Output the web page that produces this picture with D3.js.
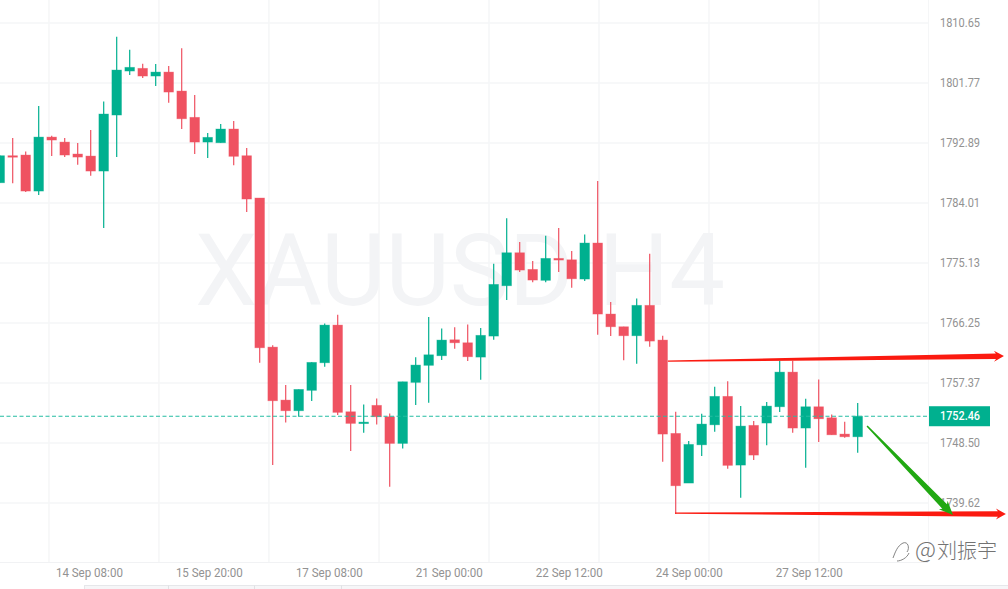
<!DOCTYPE html>
<html><head><meta charset="utf-8">
<script src="https://cdn.jsdelivr.net/npm/d3@7/dist/d3.min.js"></script>
<style>html,body{margin:0;padding:0;background:#fff;overflow:hidden}svg{display:block}</style>
</head><body><svg id="c" width="1008" height="589"></svg>
<script>
const opens=[1787.01,1791.01,1791.11,1785.78,1793.77,1793.03,1791.26,1790.96,1788.74,1797.03,1803.54,1803.94,1802.80,1803.39,1800.58,1796.69,1793.03,1792.93,1794.96,1791.01,1784.75,1762.69,1754.85,1753.27,1756.29,1760.37,1765.95,1753.12,1751.40,1754.07,1752.38,1748.44,1757.47,1759.99,1761.41,1763.77,1763.33,1761.21,1764.32,1771.77,1776.65,1774.19,1772.57,1775.82,1775.61,1772.76,1778.09,1767.58,1765.70,1764.37,1768.87,1763.73,1749.92,1742.57,1748.23,1751.19,1755.40,1745.23,1751.11,1751.45,1753.86,1758.99,1750.71,1753.86,1752.23,1749.82,1749.42];
const highs=[1791.10,1793.63,1791.65,1798.36,1793.97,1793.63,1792.89,1794.81,1799.05,1808.62,1806.69,1804.62,1804.58,1804.28,1806.90,1799.99,1794.37,1795.70,1796.14,1792.15,1784.75,1762.95,1757.07,1756.43,1760.43,1766.20,1767.47,1757.07,1754.21,1755.10,1752.88,1757.56,1761.17,1767.13,1765.46,1765.61,1766.05,1765.51,1775.02,1781.74,1778.23,1775.42,1779.17,1780.31,1776.90,1779.37,1787.26,1769.35,1765.70,1769.90,1776.50,1764.37,1753.12,1748.78,1752.82,1756.82,1757.62,1753.96,1751.74,1754.55,1760.67,1760.67,1755.04,1757.91,1752.73,1751.64,1754.41];
const lows=[1787.00,1786.92,1785.63,1785.19,1790.96,1790.81,1789.68,1788.05,1780.31,1790.81,1802.95,1802.51,1801.32,1798.85,1794.96,1791.26,1790.67,1792.93,1789.59,1782.67,1760.37,1745.23,1751.55,1752.38,1754.70,1759.78,1752.63,1747.30,1750.01,1751.25,1742.02,1747.70,1754.11,1754.45,1760.77,1762.44,1760.62,1757.85,1763.77,1769.65,1773.79,1772.27,1772.27,1773.79,1771.47,1772.46,1764.51,1764.32,1760.73,1760.22,1762.74,1745.72,1737.98,1742.57,1746.56,1750.16,1744.68,1740.39,1745.97,1748.15,1753.07,1750.01,1744.83,1748.63,1749.71,1749.27,1747.05];
const closes=[1791.01,1790.81,1785.78,1793.77,1793.33,1791.11,1790.81,1788.74,1797.18,1803.69,1804.09,1802.80,1803.39,1800.43,1796.48,1793.03,1793.73,1794.96,1790.92,1784.60,1762.59,1754.75,1753.27,1756.43,1760.43,1765.95,1753.03,1751.40,1751.59,1752.38,1748.44,1757.56,1760.03,1761.55,1763.73,1763.33,1761.26,1764.43,1771.97,1776.65,1774.09,1772.61,1775.82,1775.57,1772.80,1778.09,1767.58,1765.70,1764.37,1768.87,1763.58,1749.82,1742.17,1748.29,1751.30,1755.40,1745.19,1751.00,1746.71,1753.96,1758.99,1750.71,1753.86,1752.08,1749.71,1749.42,1752.46];
const priceTicks=["1810.65","1801.77","1792.89","1784.01","1775.13","1766.25","1757.37","1748.50","1739.62"];
const timeLabels=["14 Sep 08:00","15 Sep 20:00","17 Sep 08:00","21 Sep 00:00","22 Sep 12:00","24 Sep 00:00","27 Sep 12:00"];
const timeLabelBars=[6.9,16.13,25.36,34.59,43.82,53.05,62.28];
const gridBars=[3.79,12.25,20.71,29.18,37.64,46.1,54.56,63.02];
const lastPrice=1752.46;
const trendTop=[[51.4,1760.62],[77.25,1761.36]];
const trendBottom=[[51.95,1738.13],[77.4,1737.98]];
const trendDown=[[66.72,1751.0],[73.33,1737.83]];

const RED="#ef5261",GREEN="#00b08f",GRID="#f5f6f7",AXT="#929292";
const x=d3.scaleLinear().domain([0,66]).range([-0.3,857.7]);
const y=d3.scaleLinear().domain([1810.65,1739.62]).range([23,503]);
const svg=d3.select("#c");
svg.append("rect").attr("width",1008).attr("height",589).attr("fill","#fff");

// grid
svg.append("g").selectAll("line").data(priceTicks).join("line")
 .attr("x1",0).attr("x2",928).attr("y1",d=>y(+d)).attr("y2",d=>y(+d))
 .attr("stroke",GRID).attr("stroke-width",1.5);
svg.append("g").selectAll("line").data(gridBars).join("line")
 .attr("x1",d=>x(d)).attr("x2",d=>x(d)).attr("y1",0).attr("y2",562)
 .attr("stroke",GRID).attr("stroke-width",1.5);

// watermark
svg.append("text").attr("x",460).attr("y",305).attr("text-anchor","middle")
 .attr("font-family","Roboto").attr("font-size",100).attr("fill","#f3f4f6")
 .attr("textLength",530).attr("lengthAdjust","spacingAndGlyphs").text("XAUUSD H4");

// axes frame and the tab strip at the very bottom
svg.append("line").attr("x1",0).attr("x2",928).attr("y1",562.5).attr("y2",562.5).attr("stroke","#f1f2f4");
svg.append("line").attr("x1",928.5).attr("x2",928.5).attr("y1",0).attr("y2",562).attr("stroke","#f5f6f7");
svg.append("rect").attr("x",84.5).attr("y",585.5).attr("width",930).attr("height",6).attr("fill","#f6f6f8").attr("stroke","#e6e7ea");
svg.append("g").selectAll("line").data([168.5,254.5,341.5]).join("line")
 .attr("x1",d=>d).attr("x2",d=>d).attr("y1",585.5).attr("y2",589).attr("stroke","#e0e1e4");

// candles
const idx=d3.range(opens.length);
const col=i=>closes[i]>=opens[i]?GREEN:RED;
svg.append("g").selectAll("line").data(idx).join("line")
 .attr("x1",i=>x(i)).attr("x2",i=>x(i)).attr("y1",i=>y(highs[i])).attr("y2",i=>y(lows[i]))
 .attr("stroke",col).attr("stroke-width",1.2);
svg.append("g").selectAll("rect").data(idx).join("rect")
 .attr("x",i=>x(i)-4.8).attr("width",9.6)
 .attr("y",i=>y(Math.max(opens[i],closes[i])))
 .attr("height",i=>Math.max(1.5,Math.abs(y(opens[i])-y(closes[i]))))
 .attr("fill",col).attr("stroke",col).attr("stroke-opacity",0.45).attr("stroke-width",0.8);

// last price line
svg.append("line").attr("x1",0).attr("x2",929).attr("y1",y(lastPrice)).attr("y2",y(lastPrice))
 .attr("stroke","#25bda2").attr("stroke-width",1.1).attr("stroke-dasharray","4 2.5");

// price labels
svg.append("g").selectAll("text").data(priceTicks).join("text")
 .attr("x",940).attr("y",d=>y(+d)+3.7).attr("font-family","Roboto").attr("font-size",12)
 .attr("textLength",40).attr("lengthAdjust","spacingAndGlyphs")
 .attr("fill",AXT).text(d=>d);
svg.append("rect").attr("x",929).attr("y",y(lastPrice)-10).attr("width",61).attr("height",20).attr("fill",GREEN);
svg.append("text").attr("x",940).attr("y",y(lastPrice)+3.7).attr("font-family","Roboto").attr("font-size",12)
 .attr("textLength",40).attr("lengthAdjust","spacingAndGlyphs")
 .attr("font-weight",500).attr("fill","#fff").text(lastPrice.toFixed(2));

// time labels
svg.append("g").selectAll("text").data(timeLabels).join("text")
 .attr("x",(d,i)=>x(timeLabelBars[i])).attr("y",577).attr("text-anchor","middle")
 .attr("font-family","Roboto").attr("font-size",12)
 .attr("textLength",67).attr("lengthAdjust","spacingAndGlyphs")
 .attr("fill",AXT).text(d=>d);

// hand-drawn arrows: thin tail swelling towards the head
function arrow(t,color,startW,endW,headL,headW){
 const [a,b]=t.map(p=>[x(p[0]),y(p[1])]);
 const L=Math.hypot(b[0]-a[0],b[1]-a[1]),ux=(b[0]-a[0])/L,uy=(b[1]-a[1])/L,nx=-uy,ny=ux;
 const n=[b[0]-ux*headL,b[1]-uy*headL];
 const pts=[[a[0]+nx*startW/2,a[1]+ny*startW/2],[n[0]+nx*endW/2,n[1]+ny*endW/2],[n[0]-ux*2+nx*headW,n[1]-uy*2+ny*headW],b,[n[0]-ux*2-nx*headW,n[1]-uy*2-ny*headW],[n[0]-nx*endW/2,n[1]-ny*endW/2],[a[0]-nx*startW/2,a[1]-ny*startW/2]];
 svg.append("path").attr("d",d3.line()(pts)+"Z").attr("fill",color);
}
arrow(trendTop,"#fb1a10",1.2,5.5,8,5.5);
arrow(trendBottom,"#fb1a10",1.2,5.5,8,5.5);
arrow(trendDown,"#21a812",1.5,6.5,12,6);

// credit
const w=svg.append("g");
const credit=w.append("text").attr("x",915).attr("y",558).attr("font-family","'Noto Sans CJK SC'")
 .attr("font-weight",300).attr("fill","#737373");
credit.append("tspan").attr("font-size",23).text("@");
credit.append("tspan").attr("font-size",20).attr("dx",1).text("刘振宇");
w.append("path").attr("d","M893 558 C895 553 897 546 903 543 C908 541 910 548 907 552 M897 561 C901 561 907 558 909 553")
 .attr("fill","none").attr("stroke","#777").attr("stroke-width",0.9);
</script></body></html>
